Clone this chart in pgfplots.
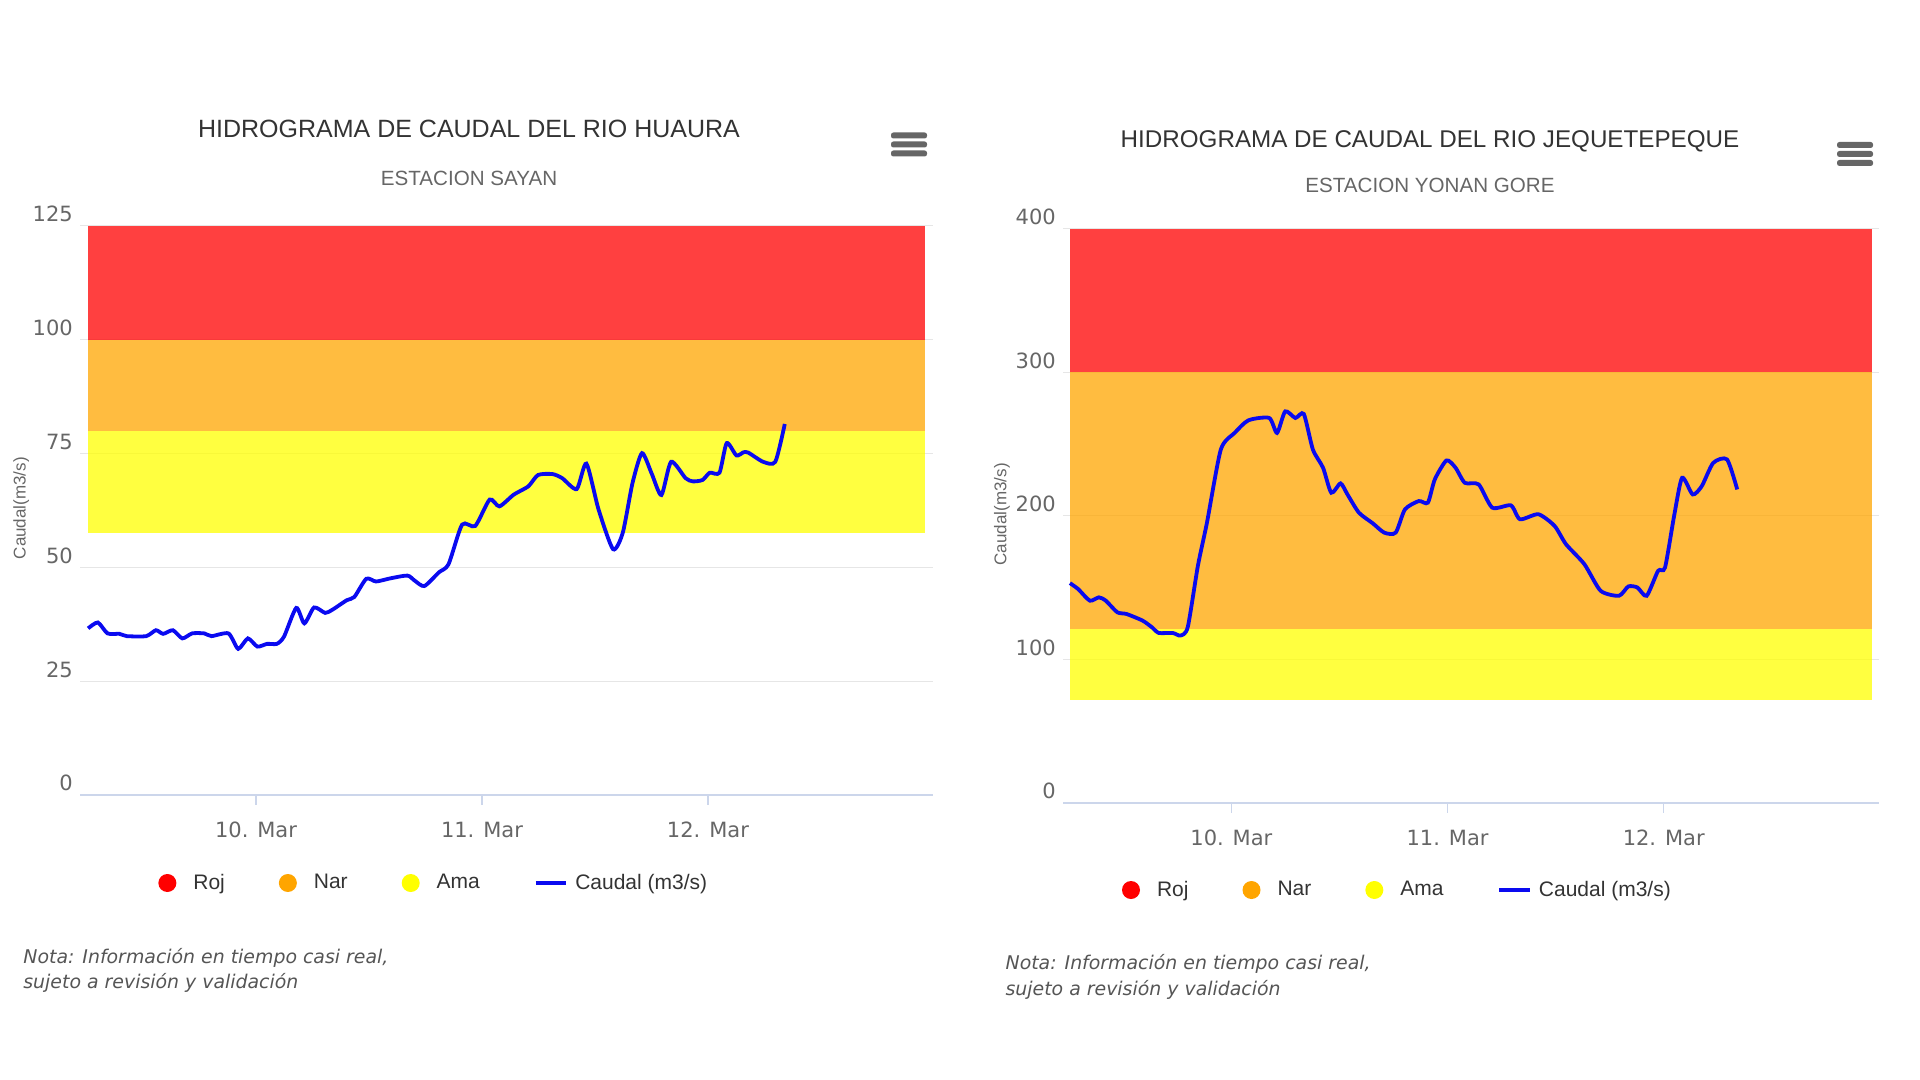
\documentclass[border=0pt]{standalone}
\usepackage{pgfplots}
\pgfplotsset{compat=1.18}
\usepackage{fontspec}
\setmainfont{Liberation Sans}
\newfontfamily\dejavu{DejaVu Sans}
\definecolor{rojc}{RGB}{255,0,0}
\definecolor{narc}{RGB}{255,165,0}
\definecolor{amac}{RGB}{255,255,0}
\definecolor{linecol}{RGB}{10,10,240}
\definecolor{gridc}{RGB}{230,230,230}
\definecolor{axisc}{RGB}{204,214,235}
\definecolor{titlec}{RGB}{51,51,51}
\definecolor{subc}{RGB}{102,102,102}
\definecolor{notec}{RGB}{85,85,85}

\pgfplotsset{
  hydro/.style={
    scale only axis, anchor=south west,
    xmin=9.221, xmax=12.996, ymin=0,
    axis x line*=bottom, axis y line*=left,
    y axis line style={draw=none},
    x axis line style={color=axisc, line width=0.6pt},
    xtick={10,11,12}, xticklabels={10. Mar,11. Mar,12. Mar},
    x tick style={color=axisc, line width=0.6pt},
    major tick length=5pt, tick align=outside,
    y tick style={draw=none},
    ymajorgrids, major grid style={color=gridc, line width=0.5pt},
    /pgf/number format/assume math mode=true,
    ticklabel style={font=\dejavu\fontsize{10.5}{12}\selectfont, text=subc},
    xticklabel style={yshift=-5pt},
    yticklabel style={anchor=base east, xshift=4.9pt, yshift=2pt},
    ylabel={Caudal(m3/s)},
    ylabel style={font=\fontsize{8.5}{10}\selectfont, text=subc, anchor=center},
    legend columns=4,
    legend cell align=left,
    legend style={draw=none, fill=none, inner sep=0pt, anchor=west,
      font=\fontsize{10.5}{12}\selectfont, text=titlec,
      /tikz/every odd column/.append style={column sep=6.5pt},
      /tikz/every even column/.append style={column sep=25pt}},
  },
  band/.style={draw=none, fill=#1, fill opacity=0.75,
    legend image code/.code={\fill[#1, fill opacity=1] (4.5pt,0pt) circle (4.5pt);}},
  caudal/.style={linecol, line width=1.9pt, smooth, tension=0.4,
    legend image code/.code={\path (0pt,0pt) -- (10.3pt,0pt);
      \draw[overlay, linecol, line width=2.2pt] (0pt,0pt) -- (15.3pt,0pt);}},
}

\begin{document}
\begin{tikzpicture}
\path[use as bounding box] (0pt,0pt) rectangle (960pt,540pt);

% ---------- Left chart ----------
\node[font=\fontsize{12.5}{15}\selectfont, text=titlec, anchor=base] at (234.5pt,471pt) {HIDROGRAMA DE CAUDAL DEL RIO HUAURA};
\node[font=\fontsize{10.3}{12}\selectfont, text=subc, anchor=base] at (234.5pt,447pt) {ESTACION SAYAN};
\begin{scope}[shift={(454.5pt,467.75pt)}]
\foreach \dy in {-4.5,0,4.5}{\fill[subc, rounded corners=1.2pt] (-9pt,\dy pt-1.5pt) rectangle (9pt,\dy pt+1.5pt);}
\end{scope}

\begin{axis}[hydro,
  at={(40pt,142.5pt)}, width=426.5pt, height=284.5pt,
  ymax=125, ytick={0,25,50,75,100,125},
  ylabel style={at={(axis description cs:-0.069,0.504)}},
  legend style={at={(axis description cs:0.0914,-0.1547)}},
]
\addplot[band=rojc] coordinates {(9.257,100) (12.96,100) (12.96,125) (9.257,125)};
\addplot[band=narc] coordinates {(9.257,80) (12.96,80) (12.96,100) (9.257,100)};
\addplot[band=amac] coordinates {(9.257,57.5) (12.96,57.5) (12.96,80) (9.257,80)};
\addplot[caudal] coordinates {
(9.257,36.6) (9.300,37.9) (9.343,35.5) (9.396,35.4) (9.428,34.9) (9.514,34.9)
(9.557,36.2) (9.589,35.4) (9.632,36.2) (9.674,34.4) (9.717,35.5) (9.771,35.5)
(9.803,34.9) (9.878,35.5) (9.921,32.1) (9.964,34.4) (10.006,32.6) (10.049,33.2)
(10.092,33.2) (10.124,34.8) (10.178,41.1) (10.214,37.7) (10.257,41.2) (10.306,40.0)
(10.338,40.7) (10.402,42.8) (10.435,43.5) (10.488,47.5) (10.531,46.9) (10.595,47.6)
(10.670,48.2) (10.702,47.1) (10.745,45.9) (10.809,48.9) (10.852,50.7) (10.912,59.4)
(10.970,59.1) (11.034,64.9) (11.077,63.4) (11.141,66.0) (11.205,67.8) (11.248,70.3)
(11.312,70.5) (11.355,69.6) (11.419,67.2) (11.462,72.8) (11.516,62.7) (11.580,54.0)
(11.623,57.6) (11.666,68.5) (11.708,75.1) (11.751,70.6) (11.794,65.9) (11.837,73.2)
(11.901,69.6) (11.933,68.9) (11.976,69.2) (12.008,70.8) (12.051,70.8) (12.083,77.3)
(12.126,74.6) (12.158,75.3) (12.179,75.2) (12.244,73.2) (12.298,73.2) (12.340,81.5)
};
\legend{Roj,Nar,Ama,Caudal (m3/s)}
\end{axis}

\node[anchor=base west, inner sep=0pt, font=\dejavu\itshape\fontsize{9.45}{11}\selectfont, text=notec] at (11.5pt,58pt) {Nota: Información en tiempo casi real,};
\node[anchor=base west, inner sep=0pt, font=\dejavu\itshape\fontsize{9.45}{11}\selectfont, text=notec] at (11.5pt,45.5pt) {sujeto a revisión y validación};

% ---------- Right chart ----------
\node[font=\fontsize{12.1}{15}\selectfont, text=titlec, anchor=base] at (715pt,466pt) {HIDROGRAMA DE CAUDAL DEL RIO JEQUETEPEQUE};
\node[font=\fontsize{10.3}{12}\selectfont, text=subc, anchor=base] at (715pt,443.5pt) {ESTACION YONAN GORE};
\begin{scope}[shift={(927.5pt,463pt)}]
\foreach \dy in {-4.5,0,4.5}{\fill[subc, rounded corners=1.2pt] (-9pt,\dy pt-1.5pt) rectangle (9pt,\dy pt+1.5pt);}
\end{scope}

\begin{axis}[hydro,
  at={(531.5pt,138.5pt)}, width=408pt, height=287pt,
  ymax=400, ytick={0,100,200,300,400},
  ylabel style={at={(axis description cs:-0.0748,0.503)}},
  legend style={at={(axis description cs:0.0718,-0.1516)}},
]
\addplot[band=rojc] coordinates {(9.253,300) (12.965,300) (12.965,400) (9.253,400)};
\addplot[band=narc] coordinates {(9.253,121) (12.965,121) (12.965,300) (9.253,300)};
\addplot[band=amac] coordinates {(9.253,72) (12.965,72) (12.965,121) (9.253,121)};
\addplot[caudal] coordinates {
(9.253,153.2) (9.291,149.1) (9.345,141.0) (9.387,143.3) (9.419,141.0) (9.472,132.9)
(9.515,131.7) (9.589,127.1) (9.632,122.5) (9.664,118.5) (9.728,118.5) (9.764,116.7)
(9.798,122.5) (9.845,165.3) (9.887,195.4) (9.951,246.3) (10.015,257.9) (10.079,266.7)
(10.175,268.3) (10.211,257.9) (10.249,272.9) (10.296,268.3) (10.335,271.1) (10.377,246.3)
(10.424,233.6) (10.462,216.2) (10.505,222.7) (10.537,215.0) (10.590,202.3) (10.654,194.9)
(10.707,188.4) (10.760,188.4) (10.803,204.6) (10.867,210.4) (10.909,209.3) (10.941,225.5)
(10.995,238.7) (11.037,233.6) (11.080,223.1) (11.144,222.0) (11.207,205.8) (11.293,207.4)
(11.335,197.7) (11.420,201.2) (11.495,193.1) (11.548,180.3) (11.633,166.4) (11.708,147.9)
(11.793,144.4) (11.836,150.9) (11.878,150.2) (11.921,144.4) (11.974,161.8) (12.006,164.1)
(12.048,200.0) (12.085,226.6) (12.134,215.0) (12.176,220.8) (12.229,237.0) (12.293,239.4)
(12.340,218.5)
};
\legend{Roj,Nar,Ama,Caudal (m3/s)}
\end{axis}

\node[anchor=base west, inner sep=0pt, font=\dejavu\itshape\fontsize{9.45}{11}\selectfont, text=notec] at (502.6pt,55pt) {Nota: Información en tiempo casi real,};
\node[anchor=base west, inner sep=0pt, font=\dejavu\itshape\fontsize{9.45}{11}\selectfont, text=notec] at (502.6pt,42.3pt) {sujeto a revisión y validación};
\end{tikzpicture}
\end{document}
